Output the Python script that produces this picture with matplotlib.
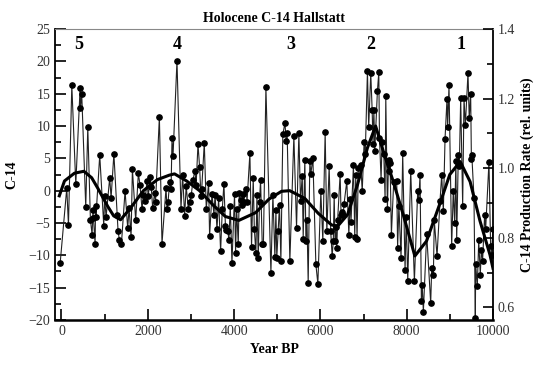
import matplotlib
matplotlib.use("Agg")
import matplotlib.pyplot as plt
from matplotlib.ticker import MultipleLocator

plt.rcParams['font.family'] = ['Liberation Serif', 'DejaVu Serif']

# === C-14 data (Year BP, C-14) ===
years = [-30, 123, 162, 240, 332, 432, 440, 470, 563, 610, 671, 710, 725, 730, 780, 790, 800,
         887, 980, 1000, 1034, 1118, 1150, 1215, 1289, 1312, 1343, 1389, 1474, 1535, 1567,
         1613, 1644, 1720, 1782, 1820, 1867, 1900, 1937, 1983, 2010, 2060, 2080, 2114, 2160,
         2180, 2269, 2330, 2423, 2446, 2470, 2507, 2540, 2562, 2585, 2677, 2770, 2808, 2855,
         2890, 2940, 2970, 3010, 3048, 3094, 3120, 3164, 3202, 3233, 3250, 3310, 3356, 3410,
         3433, 3488, 3534, 3560, 3604, 3642, 3688, 3727, 3765, 3800, 3820, 3858, 3881, 3912,
         3951, 4011, 4035, 4060, 4097, 4120, 4150, 4180, 4200, 4220, 4282, 4300, 4367, 4405,
         4444, 4470, 4506, 4530, 4560, 4590, 4614, 4653, 4680, 4738, 4854, 4900, 4946, 4970,
         4990, 5023, 5053, 5085, 5130, 5180, 5205, 5230, 5293, 5386, 5448, 5502, 5540, 5580,
         5602, 5640, 5665, 5690, 5718, 5756, 5780, 5826, 5896, 5942, 6011, 6057, 6111, 6150,
         6204, 6240, 6273, 6300, 6320, 6340, 6360, 6380, 6400, 6458, 6480, 6510, 6530, 6550,
         6613, 6660, 6690, 6710, 6767, 6797, 6820, 6850, 6880, 6937, 6970, 7014, 7040, 7091,
         7120, 7168, 7200, 7220, 7240, 7260, 7322, 7354, 7370, 7407, 7430, 7470, 7500, 7516,
         7554, 7580, 7600, 7616, 7646, 7700, 7770, 7790, 7820, 7870, 7908, 7963, 7990, 8025,
         8094, 8179, 8256, 8280, 8310, 8341, 8360, 8387, 8464, 8557, 8580, 8619, 8640, 8704,
         8773, 8812, 8850, 8889, 8935, 8950, 8981, 9043, 9080, 9113, 9140, 9159, 9197, 9220,
         9252, 9298, 9329, 9360, 9421, 9450, 9483, 9500, 9510, 9560, 9591, 9600, 9637, 9670,
         9706, 9730, 9760, 9807, 9830, 9907, 9946, 9970, 9995]
c14 = [-11.2, 0.4, -5.3, 16.3, 1.0, 15.9, 12.8, 14.9, -2.5, 9.8, -4.5, -6.8, -4.2, -3.0, -8.3, -2.3, -4.0,
       5.5, -5.4, -0.9, -4.1, 2.0, -1.1, 5.7, -3.7, -6.3, -7.6, -8.3, 0.0, -5.8, -2.7,
       -7.1, 3.3, -4.6, 2.7, 0.9, -2.9, -0.6, -1.6, 1.5, -0.8, 2.1, 0.6, -2.7, -0.3,
       -1.8, 11.4, -8.2, 0.4, -2.8, -1.8, 1.4, 0.2, 8.1, 5.3, 20.1, -2.8, 2.5, -3.9,
       0.7, -2.8, -1.7, -0.6, 1.7, 3.1, 0.8, 7.2, 3.6, -0.9, 0.2, 7.4, -2.8, 1.2,
       -7.0, -0.5, -3.7, -0.6, -6.0, -1.2, -9.4, -2.9, 1.1, -5.5, -6.1, -6.3, -7.7, -2.3,
       -11.2, -0.5, -9.6, -2.8, -8.3, -0.3, -1.4, -2.2, -0.5, -1.7, 0.3, -1.7, 5.8, -8.7,
       2.0, -6.0, -9.6, -0.6, -10.4, -1.7, 1.7, -8.3, -8.3, 16.0, -12.7, -0.6, -10.3, -3.0,
       -10.4, -6.2, -2.2, -10.8, 8.7, 10.5, 7.7, 8.9, -10.9, 8.4, -5.7, 8.9, -1.6, 2.3,
       -7.4, 4.8, -7.8, -4.6, -14.3, 4.6, 2.6, 5.1, -11.4, -14.4, -0.1, -7.8, 9.0, -6.3,
       3.8, -6.3, -10.1, -7.8, -0.6, -7.8, -5.6, -8.9, -4.6, 2.6, -3.7, -3.3, -3.7, -2.0,
       1.5, -6.8, -1.3, -4.8, 4.0, -7.1, 2.4, -7.4, 3.5, 4.0, -0.1, 7.6, 5.6, 18.5,
       9.8, 18.2, 12.5, 7.2, 12.5, 6.1, 15.4, 18.3, 8.2, 1.7, 7.5, 5.6, -1.3, 14.6,
       -2.9, 4.8, 3.0, 4.3, -6.8, 1.4, 1.5, -8.9, -2.3, -10.4, 5.8, -12.3, -4.1, -13.9,
       3.1, -14.0, 0.0, -1.5, 2.4, -17.0, -14.6, -18.7, -6.7, -17.4, -12.0, -13.1, -4.6, -10.1,
       -1.6, 2.5, -3.2, 8.0, 14.2, 9.8, 16.3, -8.6, 0.0, -5.0, 4.6, -7.6, 5.5, 3.8,
       14.3, -2.3, 14.3, 10.1, 18.2, 11.2, 14.9, 4.9, 5.5, -1.1, -19.7, -11.4, -14.8, -7.7,
       -13.0, -9.2, -10.8, -3.7, -6.0, 4.4, -8.6, -10.0, -6.0]

# === Smoothed production rate curve (in C-14 axis units) ===
curve_x = [-50, 70, 300, 520, 700, 840, 1070, 1210, 1370, 1600, 1900, 2220, 2500, 2620, 2900,
           3200, 3510, 3800, 4110, 4500, 4810, 5100, 5290, 5640, 5950, 6260, 6400, 6630, 6860,
           7090, 7280, 7480, 7690, 7920, 8190, 8460, 8770, 9000, 9240, 9470, 9700, 9930, 10000]
curve_y = [-0.8, 1.5, 2.7, 3.0, 2.0, 0.4, -2.4, -3.9, -4.5, -2.7, 0.0, 1.7, 2.4, 2.6, 1.5,
           0.0, -2.2, -4.0, -4.6, -3.4, -1.3, -0.1, 0.0, -1.2, -3.5, -5.3, -5.5, -3.7, 0.9,
           6.6, 10.0, 5.6, 1.4, -3.7, -10.1, -7.8, -2.0, 2.5, 4.5, 1.4, -4.7, -9.9, -12.0]

# === Cycle labels ===
cycle_labels = ["5", "4", "3", "2", "1"]
cycle_x = [394, 2685, 5324, 7176, 9259]

fig = plt.figure(figsize=(5.37, 3.65), dpi=100)
ax = fig.add_axes([0.1024, 0.1233, 0.8156, 0.7972])

ax.plot(years, c14, '-', color='#222222', lw=0.8, marker='o', markersize=3.8,
        markerfacecolor='black', markeredgecolor='black')
ax.plot(curve_x, curve_y, '-', color='black', lw=2.2)

for lab, cx in zip(cycle_labels, cycle_x):
    ax.text(cx, 22.6, lab, ha='center', va='center', fontsize=13, fontweight='bold')

ax.set_xlim(-150, 10000)
ax.set_ylim(-20, 25)
ax.xaxis.set_major_locator(MultipleLocator(2000))
ax.xaxis.set_minor_locator(MultipleLocator(1000))
ax.yaxis.set_major_locator(MultipleLocator(5))
ax.yaxis.set_minor_locator(MultipleLocator(2.5))
ax.tick_params(which='both', direction='in', top=False, right=False, labelsize=10,
               labelcolor='#333333', width=1.2)
ax.tick_params(which='major', length=8)
ax.tick_params(which='minor', length=4.5)
ax.spines['top'].set_color('#888888')
ax.spines['bottom'].set_linewidth(1.8)
ax.spines['left'].set_linewidth(1.3)
ax.spines['right'].set_linewidth(1.3)

ax.set_xlabel("Year BP", fontweight='bold', fontsize=10)
ax.set_ylabel("C-14", fontweight='bold', fontsize=10, labelpad=7)
ax.set_title("Holocene C-14 Hallstatt", fontweight='bold', fontsize=10, pad=5)

ax2 = ax.twinx()
ax2.set_ylim(0.564, 1.4)
ax2.yaxis.set_major_locator(MultipleLocator(0.2))
ax2.yaxis.set_minor_locator(MultipleLocator(0.1))
ax2.tick_params(which='both', direction='in', labelsize=10, labelcolor='#333333', width=1.2)
ax2.tick_params(which='major', length=7)
ax2.tick_params(which='minor', length=4.5)
ax2.set_ylabel("C-14 Production Rate (rel. units)", fontweight='bold', fontsize=10, labelpad=4)
for s in ax2.spines.values():
    s.set_visible(False)

fig.savefig("out.png", dpi=100)
